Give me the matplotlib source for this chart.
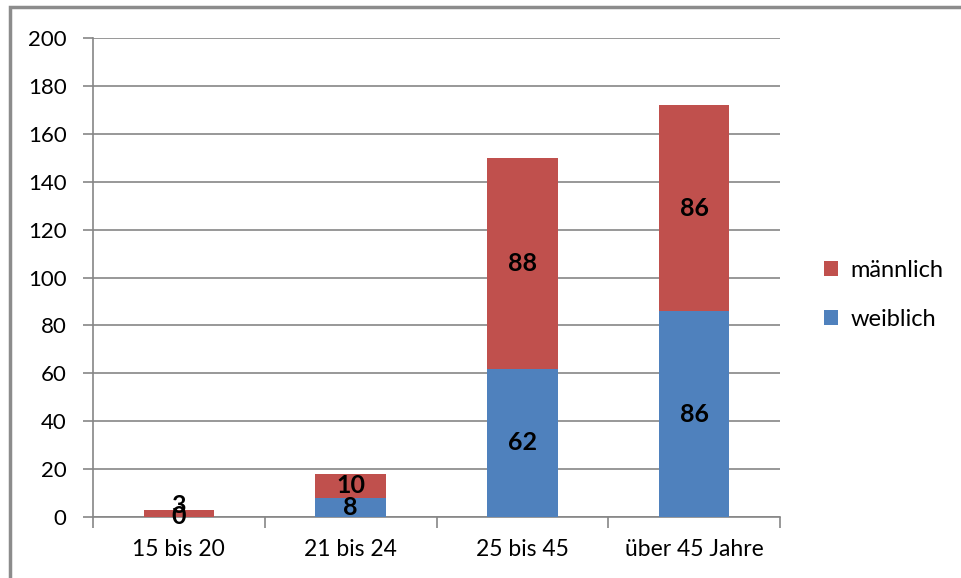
import matplotlib.pyplot as plt
from matplotlib.patches import Rectangle
import numpy as np

plt.rcParams['font.family'] = ['Lato', 'DejaVu Sans']

categories = ["15 bis 20", "21 bis 24", "25 bis 45", "über 45 Jahre"]
weiblich = [0, 8, 62, 86]
maennlich = [3, 10, 88, 86]

blue = "#4F81BD"
red = "#C0504D"
grid_col = "#868686"

fig = plt.figure(figsize=(9.61, 5.78), dpi=100)
ax = fig.add_axes([93 / 961, 61 / 578, 687 / 961, 479 / 578])

# outer chart frame
fig.patches.append(Rectangle((10 / 961, -0.1), 1.2, 1.1 - 7 / 578,
                             transform=fig.transFigure, fill=False,
                             edgecolor="#8c8c8c", linewidth=2.5))

x = np.arange(len(categories))
w = 0.41
b1 = ax.bar(x, weiblich, w, color=blue, label="weiblich", zorder=3)
b2 = ax.bar(x, maennlich, w, bottom=weiblich, color=red, label="männlich", zorder=3)

for bars, vals, bottoms, lift in ((b1, weiblich, [0] * 4, 0),
                                  (b2, maennlich, weiblich, 6)):
    for rect, v, b in zip(bars, vals, bottoms):
        # very thin segments: nudge the upper label a little
        dy = lift if v < 5 else 0
        ax.annotate(str(v), (rect.get_x() + rect.get_width() / 2, b + v / 2),
                    xytext=(0, dy), textcoords="offset points",
                    ha="center", va="center", fontsize=18, fontweight="bold",
                    color="black", zorder=4)

ax.set_xlim(-0.5, len(categories) - 0.5)
ax.set_ylim(0, 200)
ax.set_yticks(range(0, 201, 20))
ax.yaxis.grid(True, color=grid_col, linewidth=1.2, zorder=0)
ax.set_axisbelow(True)

ax.set_xticks(x)
ax.set_xticklabels(categories, fontsize=16.5)
ax.tick_params(axis="x", length=0, pad=16)
ax.set_xticks(np.arange(-0.5, len(categories)), minor=True)
ax.tick_params(axis="x", which="minor", length=8, color=grid_col, width=1.2)
ax.tick_params(axis="y", length=7, color=grid_col, width=1.2, labelsize=16, pad=12)

for s in ("top", "right"):
    ax.spines[s].set_visible(False)
for s in ("left", "bottom"):
    ax.spines[s].set_color(grid_col)
    ax.spines[s].set_linewidth(1.2)

handles, labels = ax.get_legend_handles_labels()
fig.legend(handles[::-1], labels[::-1], loc="center left",
           bbox_to_anchor=(803 / 961, 1 - 295 / 578), frameon=False,
           fontsize=17, handlelength=0.6, handleheight=0.6,
           handletextpad=0.5, labelspacing=1.2)

fig.savefig("out.png", dpi=100)
